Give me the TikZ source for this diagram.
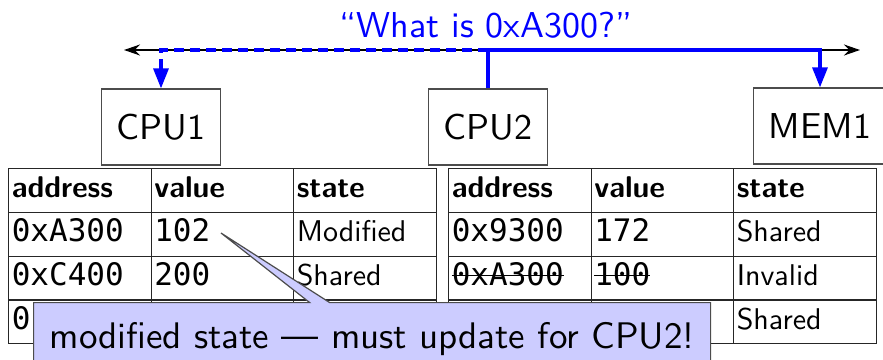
\documentclass[tikz,border=0pt]{standalone}
\usepackage{fontspec}
\setsansfont{lmsans10-regular.otf}[BoldFont=lmsans10-bold.otf]
\setmonofont{DejaVu Sans Mono}
\usetikzlibrary{arrows.meta,positioning,matrix,shapes.callouts}
\newcommand{\hexv}[1]{{\ttfamily\fontsize{31}{34}\selectfont #1}}
\newsavebox{\strikebox}
\newcommand{\struck}[1]{\sbox{\strikebox}{#1}\rlap{\rule[0.3em]{\wd\strikebox}{1.4pt}}\usebox{\strikebox}}

\tikzset{
  unitbox/.style={draw=black!70, line width=1.2pt, minimum height=76pt, inner xsep=15.5pt,
    font=\sffamily\fontsize{36}{40}\selectfont},
  bus/.style={line width=1.6pt, {Stealth[length=16pt,width=11pt]}-{Stealth[length=16pt,width=11pt]}},
  snoop/.style={blue, line width=3.2pt, -{Triangle[length=20pt,width=15pt]}},
  cell/.style={draw=black!85, line width=1.2pt, minimum height=43.75pt, text width=136.5pt,
    inner xsep=3pt, inner ysep=0pt, align=left, text height=22pt, text depth=7.5pt,
    font=\sffamily\fontsize{30}{34}\selectfont},
  cache/.style={matrix of nodes, nodes={cell}, nodes in empty cells,
    column sep=-1.2pt, row sep=-1.2pt, inner sep=0pt, anchor=north west},
  hint/.style={rectangle callout, fill=blue!20, draw=black!70, line width=1.2pt,
    callout pointer width=20pt, minimum width=677pt, inner ysep=19pt,
    text height=27pt, text depth=9pt, font=\sffamily\fontsize{37}{40}\selectfont}
}

\begin{document}
\begin{tikzpicture}[x=1pt,y=-1pt]
        \useasboundingbox (0,0) rectangle (883,359);

        % Query text
        \node[blue, font=\sffamily\fontsize{36}{40}\selectfont, anchor=base] (query) at (486,37) {“What is 0xA300?”};

        % Bus
        \coordinate (busL) at (124,50);
        \coordinate (busR) at (860,50);
        \draw[bus] (busL) -- (busR);

        % Units on the bus
        \node[unitbox] (cpu1) at (161,127) {CPU1};
        \node[unitbox] (cpu2) at (488,127) {CPU2};
        \node[unitbox] (mem1) at (820,126) {MEM1};

        % Snoop request from CPU2
        \draw[snoop] (cpu2.north) -- (cpu2.north |- busL) -- (mem1.north |- busL) -- (mem1.north);
        \draw[snoop, dash pattern=on 10pt off 6pt] (cpu2.north |- busL) -- (cpu1.north |- busL) -- (cpu1.north);

        % CPU1 cache
        \matrix (cacheA) [cache] at (8,168) {
          \textbf{address} & \textbf{value} & \textbf{state} \\
          \hexv{0xA300} & \hexv{102} & Modified \\
          \hexv{0xC400} & \hexv{200} & Shared \\
          \hexv{0} & & \\
        };

        % CPU2 cache
        \matrix (cacheB) [cache] at (448,168) {
          \textbf{address} & \textbf{value} & \textbf{state} \\
          \hexv{0x9300} & \hexv{172} & Shared \\
          \hexv{\struck{0xA300}} & \hexv{\struck{100}} & Invalid \\
          & & Shared \\
        };

        % Note
        \coordinate (tip) at (221,233);
        \node[hint, callout absolute pointer={(tip)}, anchor=north west] (note) at (33,302)
          {modified state — must update for CPU2!};

\end{tikzpicture}
\end{document}
